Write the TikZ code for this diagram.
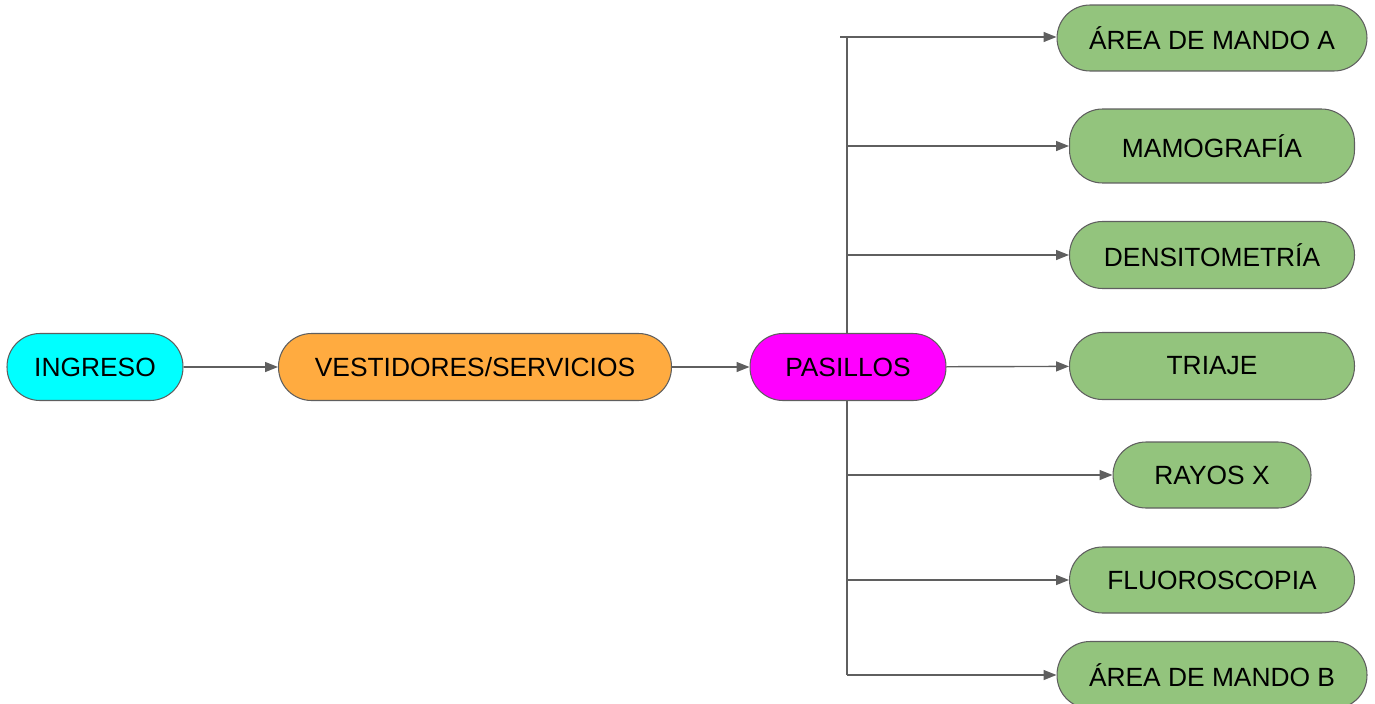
\documentclass[tikz,border=0pt]{standalone}
\usepackage{fontspec}
\setmainfont{Liberation Sans}
\usepackage{xcolor}
\usetikzlibrary{arrows.meta, positioning}

\definecolor{lineGray}{HTML}{5F5F5F}
\definecolor{ingFill}{HTML}{00FFFF}
\definecolor{vesFill}{HTML}{FFAB40}
\definecolor{pasFill}{HTML}{FF00FF}
\definecolor{areaFill}{HTML}{93C47D}

\begin{document}
\begin{tikzpicture}[x=0.02cm, y=-0.02cm,
  box/.style = {draw=lineGray, line width=0.6pt, rounded corners=0.66cm, minimum height=1.34cm, inner sep=0pt, font=\fontsize{15}{18}\selectfont},
  arr/.style = {draw=lineGray, line width=0.8pt, -{Triangle[length=0.26cm, width=0.2cm]}}
]
  \useasboundingbox (0,0) rectangle (1375,703);

  % main row
  \node[box, fill=ingFill, minimum width=3.52cm] (ing) at (95,367) {INGRESO};
  \node[box, fill=vesFill, minimum width=7.86cm] (ves) at (475,367) {VESTIDORES/SERVICIOS};
  \node[box, fill=pasFill, minimum width=3.92cm] (pas) at (848,367) {PASILLOS};

  % areas on the right
  \foreach \n/\y/\w/\h/\txt in {
    mandoA/38/6.2/1.32/{ÁREA DE MANDO A},
    mamo/146/5.7/1.48/{MAMOGRAFÍA},
    dens/255/5.7/1.34/{DENSITOMETRÍA},
    triaje/366/5.7/1.34/{TRIAJE},
    rayos/475/3.96/1.32/{RAYOS X},
    fluoro/580/5.7/1.32/{FLUOROSCOPIA},
    mandoB/675/6.2/1.34/{ÁREA DE MANDO B}
  }{
    \node[box, fill=areaFill, minimum width=\w cm, minimum height=\h cm] (\n) at (1212,\y) {\txt};
  }

  % trunk
  \coordinate (stub) at (840,37);
  \coordinate (trunkA) at (847,37);
  \coordinate (trunkB) at (847,675);
  \draw[lineGray, line width=0.8pt] (pas.north -| trunkA) -- (trunkA);
  \draw[lineGray, line width=0.8pt] (pas.south -| trunkB) -- (trunkB);

  % branches
  \draw[arr] (stub) -- (mandoA.west |- stub);
  \foreach \n in {mamo, dens, rayos, fluoro, mandoB}{
    \coordinate (br-\n) at (trunkA |- \n);
    \draw[arr] (br-\n) -- (\n.west);
  }

  % main flow
  \draw[arr] (ing) -- (ves);
  \draw[arr] (ves) -- (pas);
  \draw[arr] (pas) -- (triaje);
\end{tikzpicture}
\end{document}
